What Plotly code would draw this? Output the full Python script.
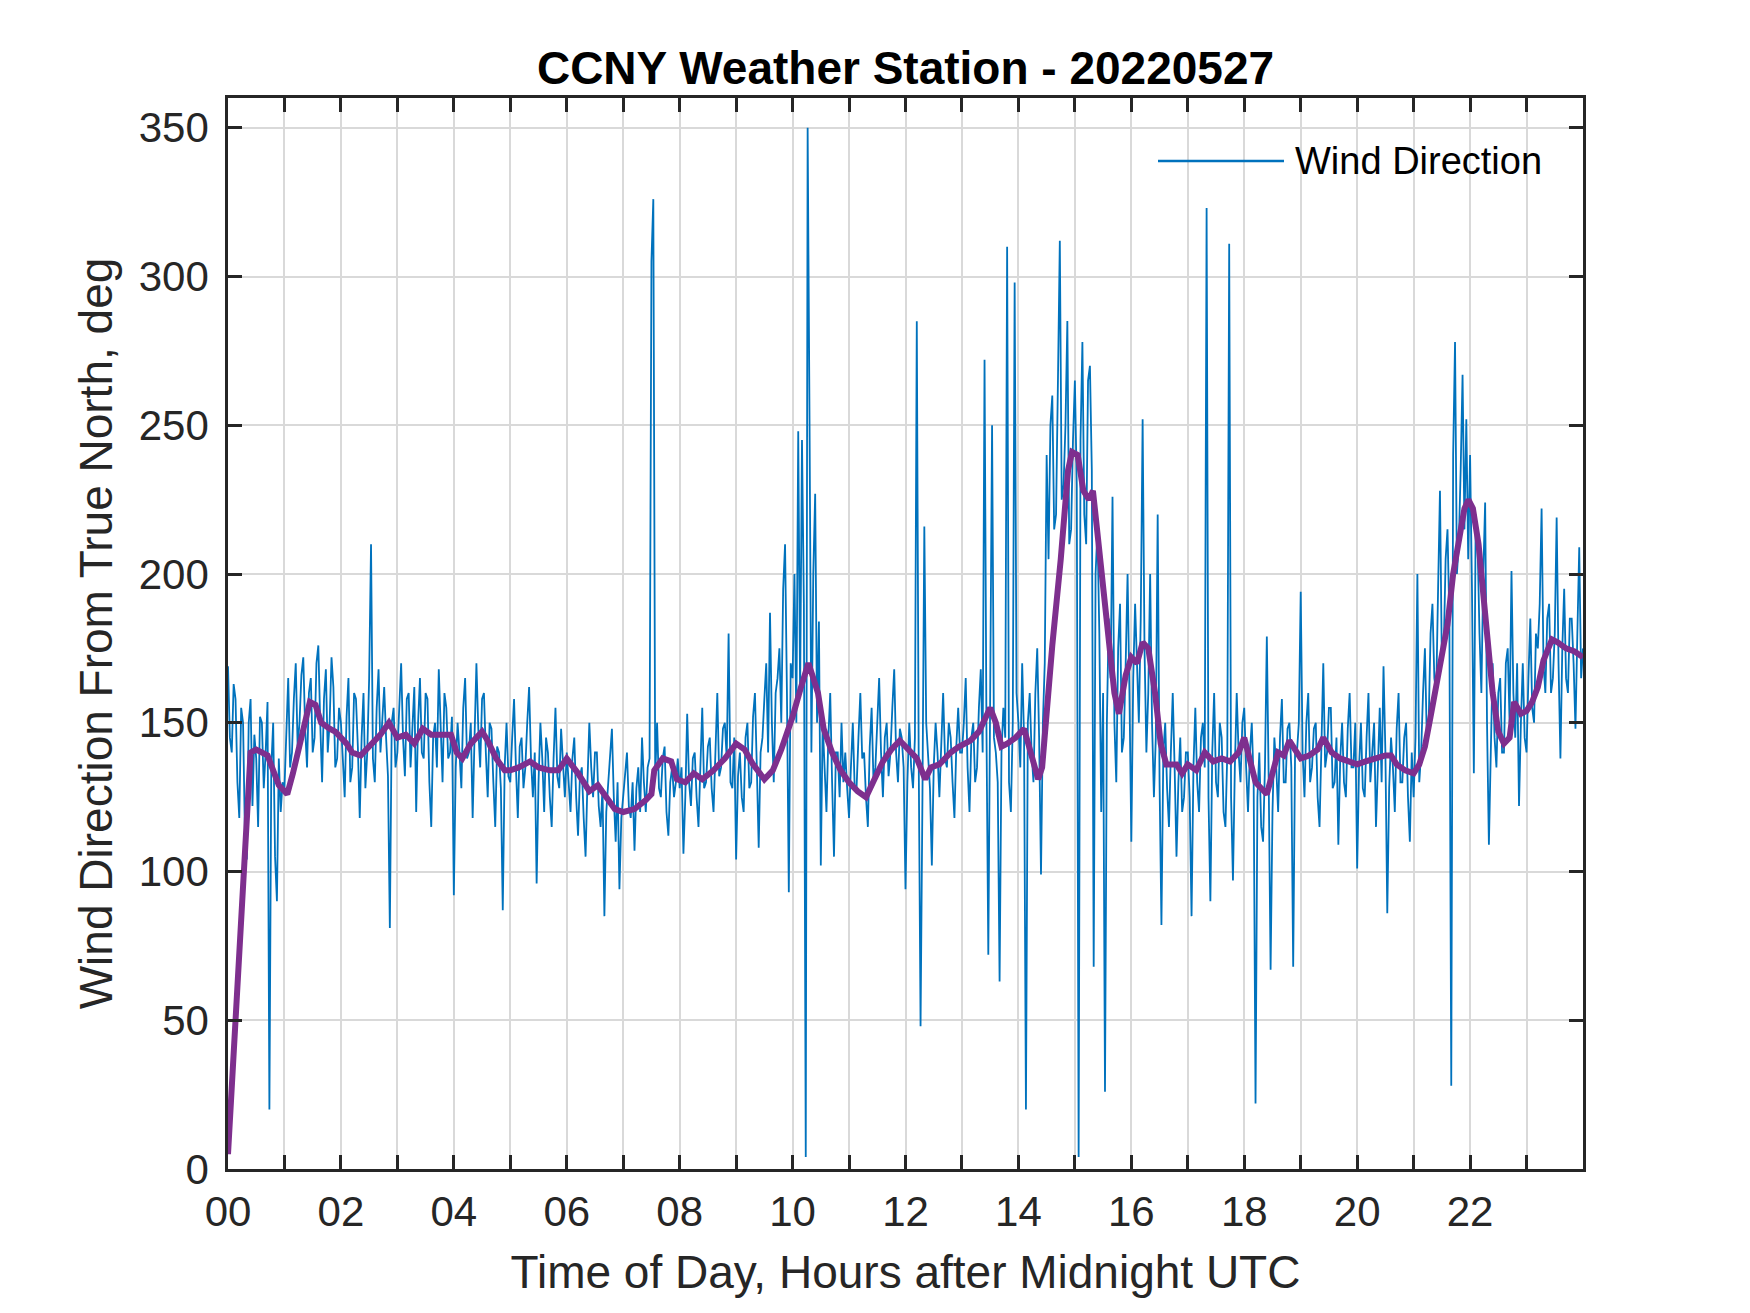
import numpy as np
import plotly.graph_objects as go

wind_by_hour = [
    [169, 145, 140, 163, 158, 130, 118, 155, 150, 112, 104, 150, 158, 122, 146, 138, 115, 152, 150, 128, 140, 157, 20, 135, 150, 105, 90, 138, 120, 130],
    [128, 150, 165, 135, 140, 158, 170, 142, 150, 166, 172, 148, 135, 160, 165, 140, 145, 170, 176, 150, 130, 158, 168, 140, 150, 172, 162, 135, 138, 155],
    [150, 138, 125, 152, 165, 130, 135, 160, 158, 142, 118, 145, 160, 128, 140, 165, 210, 138, 130, 155, 168, 140, 150, 162, 145, 132, 81, 150, 155, 135],
    [140, 155, 170, 145, 132, 158, 160, 135, 148, 162, 120, 150, 165, 140, 138, 160, 158, 130, 115, 145, 150, 135, 168, 148, 130, 160, 155, 138, 140, 152],
    [92, 135, 150, 140, 128, 155, 165, 138, 140, 150, 118, 145, 170, 148, 135, 158, 160, 140, 125, 150, 148, 130, 115, 142, 140, 128, 87, 135, 150, 132],
    [130, 145, 158, 135, 118, 142, 145, 128, 135, 150, 162, 138, 125, 140, 96, 130, 150, 138, 120, 145, 140, 125, 115, 138, 155, 132, 128, 148, 138, 125],
    [140, 128, 120, 138, 145, 125, 112, 132, 135, 118, 105, 130, 150, 135, 125, 140, 140, 122, 115, 128, 85, 120, 130, 138, 148, 125, 110, 130, 94, 118],
    [125, 132, 140, 122, 118, 130, 107, 128, 135, 120, 145, 130, 120, 135, 138, 305, 326, 132, 150, 128, 125, 138, 142, 120, 112, 130, 135, 125, 130, 138],
    [128, 135, 106, 125, 153, 130, 122, 138, 140, 125, 115, 135, 155, 128, 130, 142, 145, 128, 120, 140, 160, 132, 135, 148, 150, 138, 180, 130, 128, 145],
    [104, 132, 140, 125, 120, 145, 150, 128, 130, 152, 160, 135, 108, 140, 145, 158, 170, 140, 187, 150, 130, 160, 165, 175, 150, 195, 210, 160, 93, 170],
    [165, 200, 150, 248, 160, 245, 190, 4, 350, 252, 140, 200, 227, 150, 184, 102, 150, 135, 120, 145, 160, 130, 105, 140, 140, 125, 150, 130, 140, 128],
    [118, 135, 150, 128, 128, 145, 160, 138, 140, 125, 115, 142, 155, 130, 135, 150, 165, 140, 125, 145, 150, 132, 140, 155, 168, 140, 130, 148, 145, 135],
    [94, 130, 150, 135, 128, 145, 285, 140, 48, 125, 216, 150, 140, 128, 102, 135, 150, 140, 125, 145, 160, 138, 135, 150, 145, 130, 118, 142, 155, 140],
    [140, 150, 165, 135, 120, 145, 150, 130, 135, 155, 168, 140, 272, 150, 72, 160, 250, 145, 140, 130, 63, 140, 155, 145, 310, 130, 120, 150, 298, 160],
    [150, 135, 170, 145, 20, 150, 160, 140, 130, 160, 175, 145, 99, 150, 170, 240, 205, 250, 260, 215, 220, 265, 312, 225, 230, 250, 285, 210, 215, 245],
    [265, 230, 4, 245, 278, 220, 210, 265, 270, 235, 68, 200, 215, 180, 120, 160, 26, 150, 185, 165, 226, 150, 130, 175, 190, 140, 145, 170, 200, 160],
    [110, 165, 190, 170, 150, 185, 252, 175, 140, 160, 200, 150, 125, 145, 220, 130, 82, 140, 150, 128, 115, 140, 160, 135, 105, 130, 145, 120, 125, 140],
    [140, 125, 85, 135, 155, 130, 120, 145, 150, 135, 323, 125, 90, 140, 160, 130, 125, 150, 145, 120, 115, 140, 311, 125, 97, 135, 160, 140, 130, 150],
    [155, 135, 120, 140, 150, 130, 22, 125, 140, 115, 110, 135, 179, 130, 67, 120, 145, 135, 120, 145, 158, 130, 130, 148, 150, 135, 68, 140, 140, 150],
    [194, 140, 125, 150, 160, 130, 135, 148, 150, 125, 115, 142, 170, 135, 140, 155, 155, 128, 130, 145, 109, 138, 150, 130, 125, 148, 160, 135, 135, 150],
    [101, 135, 150, 128, 125, 145, 160, 130, 140, 150, 115, 138, 155, 130, 169, 140, 86, 128, 145, 135, 120, 148, 160, 130, 130, 145, 150, 125, 110, 140],
    [125, 145, 200, 130, 140, 160, 175, 145, 150, 180, 190, 165, 160, 195, 228, 170, 175, 205, 215, 185, 28, 240, 278, 200, 210, 235, 267, 215, 252, 205],
    [240, 195, 133, 220, 210, 180, 160, 200, 224, 150, 109, 140, 170, 145, 135, 160, 165, 140, 140, 170, 175, 150, 201, 160, 145, 170, 122, 150, 170, 145],
    [140, 165, 185, 155, 150, 180, 175, 190, 222, 170, 160, 185, 190, 160, 165, 180, 219, 170, 138, 175, 195, 165, 160, 185, 185, 170, 148, 180, 209, 165],
]
wind_last = 175  # value at 24:00
wind_dir = [v for hour in wind_by_hour for v in hour] + [wind_last]
wind_hours = np.arange(len(wind_dir)) / 30.0

# running-mean curve (purple), read at its turning points
avg_hours = [
    0.0, 0.4, 0.5, 0.6, 0.7, 0.8, 0.9, 1.0, 1.05, 1.15, 1.3, 1.45, 1.55, 1.65, 1.8, 1.9,
    2.0, 2.1, 2.2, 2.35, 2.5, 2.7, 2.85, 3.0, 3.15, 3.3, 3.45, 3.6, 3.75, 3.95,
    4.05, 4.15, 4.3, 4.5, 4.6, 4.75, 4.9, 5.0, 5.15, 5.35, 5.5, 5.7, 5.85,
    6.0, 6.2, 6.4, 6.55, 6.7, 6.85, 7.0, 7.2, 7.4, 7.5, 7.55, 7.7, 7.85, 7.95,
    8.1, 8.25, 8.4, 8.6, 8.8, 9.0, 9.15, 9.3, 9.5, 9.65, 9.8,
    10.0, 10.15, 10.28, 10.35, 10.45, 10.55, 10.7, 10.85, 11.0, 11.15, 11.3, 11.45, 11.6, 11.75, 11.9,
    12.0, 12.1, 12.2, 12.35, 12.45, 12.6, 12.8, 12.95, 13.15, 13.3, 13.5, 13.6, 13.7, 13.8, 13.95,
    14.1, 14.25, 14.35, 14.42, 14.5, 14.6, 14.75, 14.88, 14.95,
    15.05, 15.15, 15.25, 15.32, 15.45, 15.55, 15.7, 15.78, 15.9,
    16.0, 16.1, 16.2, 16.3, 16.42, 16.52, 16.62, 16.8, 16.9,
    17.0, 17.15, 17.3, 17.45, 17.6, 17.75, 17.9,
    18.0, 18.1, 18.2, 18.3, 18.4, 18.5, 18.6, 18.7, 18.8, 18.9,
    19.0, 19.15, 19.3, 19.4, 19.55, 19.7, 19.85,
    20.0, 20.15, 20.3, 20.5, 20.6, 20.7, 20.85,
    21.0, 21.1, 21.2, 21.3, 21.4, 21.5, 21.6, 21.7, 21.8, 21.9, 21.97,
    22.05, 22.15, 22.3, 22.4, 22.5, 22.6, 22.7, 22.78, 22.9,
    23.0, 23.1, 23.2, 23.3, 23.45, 23.55, 23.7, 23.85, 24.0,
]
avg_dir = [
    5, 140, 141, 140, 139, 134, 129, 127, 126, 133, 145, 157, 156, 150, 148, 147,
    145, 143, 140, 139, 142, 146, 150, 145, 146, 143, 148, 146, 146, 146,
    140, 138, 143, 147, 144, 138, 134, 134, 135, 137, 135, 134, 134,
    138, 133, 127, 129, 125, 121, 120, 121, 124, 126, 134, 138, 137, 131,
    130, 133, 131, 134, 138, 143, 141, 136, 131, 134, 141,
    152, 162, 170, 166, 160, 148, 140, 134, 130, 127, 125, 131, 137, 141, 144,
    142, 140, 138, 131, 135, 136, 140, 142, 144, 147, 155, 150, 142, 143, 145,
    148, 138, 131, 135, 155, 176, 205, 235, 241,
    240, 228, 225, 228, 205, 185, 160, 153, 166,
    172, 170, 177, 175, 160, 143, 136, 136, 133,
    136, 134, 140, 137, 138, 137, 140,
    145, 138, 130, 128, 126, 133, 140, 139, 144, 141,
    138, 139, 141, 145, 140, 138, 137,
    136, 137, 138, 139, 139, 136, 134,
    133, 136, 142, 152, 163, 173, 183, 200, 212, 222, 225,
    222, 210, 180, 160, 147, 143, 145, 157, 153,
    154, 157, 162, 171, 178, 177, 175, 174, 172,
]

hour_ticks = list(range(24))
hour_labels = [f"{h:02d}" if h % 2 == 0 else "" for h in hour_ticks]
deg_ticks = list(range(0, 351, 50))

AX = "#262626"
GRID = "#d9d9d9"
FONT = "Liberation Sans, Arial, sans-serif"

fig = go.Figure()
fig.add_trace(go.Scatter(x=wind_hours, y=wind_dir, mode="lines", name="Wind Direction",
                         line=dict(color="#0072BD", width=1.8), showlegend=False))
fig.add_trace(go.Scatter(x=avg_hours, y=avg_dir, mode="lines", name="mean",
                         line=dict(color="#7E2F8E", width=6), showlegend=False))

axis_common = dict(showline=True, linecolor=AX, linewidth=2.5, mirror="ticks",
                   ticks="inside", ticklen=14, tickwidth=2.5, tickcolor=AX,
                   showgrid=True, gridcolor=GRID, gridwidth=2, zeroline=False,
                   tickfont=dict(family=FONT, size=42, color=AX))

fig.update_xaxes(range=[0, 24], tickmode="array", tickvals=hour_ticks, ticktext=hour_labels,
                 title=dict(text="Time of Day, Hours after Midnight UTC",
                            font=dict(family=FONT, size=46, color=AX), standoff=22),
                 ticklabelstandoff=4, **axis_common)
fig.update_yaxes(range=[0, 360], tickmode="array", tickvals=deg_ticks,
                 title=dict(text="Wind Direction From True North, deg",
                            font=dict(family=FONT, size=46, color=AX), standoff=12),
                 ticklabelstandoff=8, **axis_common)

# legend drawn as a line sample + label, like the MATLAB legend box
fig.add_shape(type="line", xref="paper", yref="paper", x0=(1158 - 228) / 1355, x1=(1284 - 228) / 1355,
              y0=(1169 - 161) / 1071, y1=(1169 - 161) / 1071, line=dict(color="#0072BD", width=2.5))
fig.add_annotation(xref="paper", yref="paper", x=(1293 - 228) / 1355, y=(1169 - 161) / 1071,
                   xanchor="left", yanchor="middle", showarrow=False, text="Wind Direction",
                   font=dict(family=FONT, size=38, color="black"))

# the page body adds an 8px offset, so margins are trimmed by 8 on the top/left
fig.update_layout(
    width=1750, height=1313, autosize=False,
    margin=dict(l=220, r=175, t=90, b=152),
    paper_bgcolor="white", plot_bgcolor="white",
    title=dict(text="<b>CCNY Weather Station - 20220527</b>", x=0.5, xref="paper",
               y=1 - 60 / 1313, yref="container", yanchor="middle",
               font=dict(family=FONT, size=46, color="black")),
)

fig.write_html("out.html")
